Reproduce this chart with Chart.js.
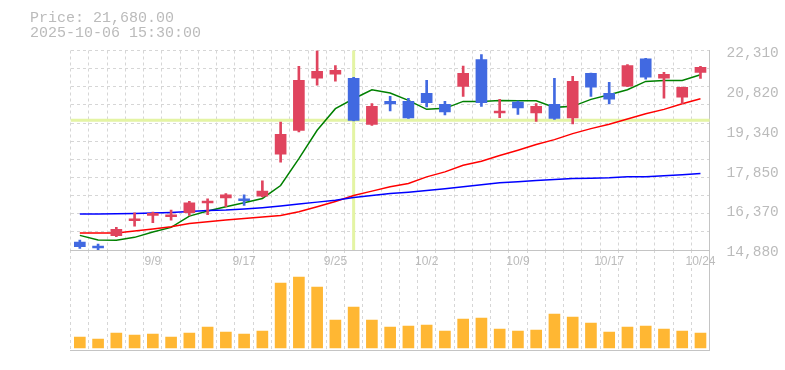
<!DOCTYPE html>
<html>
<head>
<meta charset="utf-8">
<script src="https://cdn.jsdelivr.net/npm/chart.js@4.4.1/dist/chart.umd.min.js"></script>
<style>
  html, body { margin: 0; padding: 0; background: #fff; }
  #wrap { position: relative; width: 785px; height: 370px; }
  #info { position: absolute; left: 30px; top: 11px; font: 15px/15px "Liberation Mono", monospace; color: #bbb; white-space: pre; }
  #vol { position: absolute; left: 0; top: 250px; }
  #price { position: absolute; left: 0; top: 0; }
</style>
</head>
<body>
<div id="wrap">
  <canvas id="vol" width="785" height="101"></canvas>
  <canvas id="price" width="785" height="275"></canvas>
  <div id="info">Price: 21,680.00
2025-10-06 15:30:00</div>
</div>
<script>
// ===== Data =====
const dates = ['9/3','9/4','9/5','9/8','9/9','9/10','9/11','9/12','9/16','9/17','9/18','9/19','9/22','9/24','9/25',
  '9/26','9/29','9/30','10/1','10/2','10/3','10/6','10/7','10/8','10/9','10/10','10/14','10/15','10/16','10/17',
  '10/20','10/21','10/22','10/23','10/24'];
const dateTicks = ['9/9','9/17','9/25','10/2','10/9','10/17','10/24'];

const opens  = [15177,15029,15413,15970,16168,16118,16267,16638,16824,16787,16886,18446,19338,21282,21431,
  21270,19561,20415,20415,20713,20304,20973,21976,19982,20391,19982,20304,19796,21456,20713,20985,22000,21282,20576,21493];
const highs  = [15251,15103,15722,16267,16292,16366,16688,16787,16985,16936,17456,19648,21716,22310,21753,
  21307,20329,20601,20527,21196,20415,21728,22161,20490,20428,20329,21270,21344,21470,21121,21790,22020,21493,20950,21720];
const lows   = [14942,14880,15375,15772,15895,15994,16168,16193,16490,16539,16861,18149,19276,21022,21171,
  19685,19524,20056,19784,20205,19908,20601,20230,19809,19932,19672,19747,19573,20601,20316,20960,21245,20539,20329,21270];
const closes = [15004,14954,15648,16044,16242,16193,16638,16700,16936,16713,17072,19189,21195,21530,21567,
  19710,20230,20316,19796,20366,20019,21456,20366,20056,20168,20230,19784,21158,20948,20502,21753,21319,21418,20935,21680];

const ma5  = [15425,15251,15239,15351,15549,15722,16143,16329,16490,16638,16799,17282,18285,19338,20143,
  20514,20849,20725,20452,20118,20155,20415,20415,20452,20440,20440,20192,20230,20490,20663,20849,21158,21195,21195,21406];
const ma25 = [15512,15512,15512,15586,15660,15747,15871,15933,15994,16056,16106,16168,16304,16490,16688,
  16911,17072,17233,17357,17604,17790,18038,18186,18397,18595,18806,18991,19214,19400,19561,19759,19957,20118,20329,20514];
const ma75 = [16217,16217,16230,16242,16255,16279,16316,16354,16366,16403,16453,16515,16589,16663,16737,
  16837,16911,16985,17035,17097,17159,17233,17307,17381,17419,17468,17505,17542,17555,17567,17604,17604,17641,17679,17728];

// volume (thousand shares)
const volumes = [110,90,150,130,140,110,150,210,160,140,170,650,710,610,280,
  410,280,210,220,230,170,290,300,190,170,180,340,310,250,160,210,220,190,170,150];

const priceTicks = [14880,16370,17850,19340,20820,22310];
const crossIndex = 15;

// ===== Styles =====
const RED = '#e0445e', BLUE = '#4169e1', ORANGE = '#ffb733';
const GRID = '#d6d6d6', AXIS = '#c4c4c4', TEXT = '#bbb';
const MONO = '"Liberation Mono", monospace';
const PLOT_LEFT = 70.7, AXIS_W = 785 - 709.6;

const candleColors = closes.map((c, i) => c >= opens[i] ? RED : BLUE);

// crosshair behind the candles, at the close of crossIndex
const crosshair = {
  id: 'crosshair',
  beforeDatasetsDraw(chart) {
    const { ctx, chartArea: a, scales: { x, y } } = chart;
    const px = x.getPixelForValue(crossIndex);
    const py = y.getPixelForValue(closes[crossIndex]);
    ctx.save();
    ctx.strokeStyle = '#e4f4a4';
    ctx.lineWidth = 3;
    ctx.beginPath();
    ctx.moveTo(px, a.top); ctx.lineTo(px, a.bottom);
    ctx.moveTo(a.left, py); ctx.lineTo(a.right, py);
    ctx.stroke();
    ctx.restore();
  }
};

const lineDs = (data, color) => ({
  type: 'line', data, borderColor: color, borderWidth: 1.5,
  pointRadius: 0, tension: 0, order: 3, yAxisID: 'y'
});

// ===== Price chart =====
new Chart(document.getElementById('price'), {
  type: 'bar',
  data: {
    labels: dates,
    datasets: [
      lineDs(ma75, '#0000ff'),
      lineDs(ma25, '#ff0000'),
      lineDs(ma5, '#008000'),
      {
        // wicks
        data: lows.map((l, i) => [l, highs[i]]),
        backgroundColor: candleColors, barThickness: 2,
        grouped: false, order: 2, yAxisID: 'y', borderSkipped: false
      },
      {
        // bodies
        data: opens.map((o, i) => [o, closes[i]]),
        backgroundColor: candleColors, barThickness: 11,
        grouped: false, order: 1, yAxisID: 'y', borderSkipped: false
      }
    ]
  },
  options: {
    responsive: false,
    animation: false,
    layout: { padding: { left: PLOT_LEFT, top: 50.5, right: 0, bottom: 0 } },
    plugins: { legend: { display: false }, tooltip: { enabled: false } },
    scales: {
      x: {
        offset: true,
        grid: { color: GRID, drawTicks: false, offset: true },
        border: { display: true, color: AXIS, dash: [3, 3] },
        ticks: {
          autoSkip: false, maxRotation: 0, padding: 4, color: TEXT,
          font: { family: '"Liberation Sans", sans-serif', size: 12 },
          callback: (v, i) => dateTicks.includes(dates[i]) ? dates[i] : ''
        },
        afterFit: s => { s.height = 25; }
      },
      y: {
        position: 'right',
        min: priceTicks[0], max: priceTicks[priceTicks.length - 1],
        grid: { display: false },
        border: { display: true, color: AXIS },
        afterBuildTicks: s => { s.ticks = priceTicks.map(v => ({ value: v })); },
        ticks: {
          padding: 9, labelOffset: 2.5, color: TEXT,
          font: { family: MONO, size: 14.5 },
          callback: v => v.toLocaleString('en-US')
        },
        afterFit: s => { s.width = AXIS_W; }
      },
      // hidden axis that only draws the horizontal dashed grid
      yg: {
        position: 'left', min: 0, max: 11,
        ticks: { display: false, stepSize: 1 },
        grid: { color: GRID, drawTicks: false },
        border: { display: false, dash: [3, 3] }
      }
    }
  },
  plugins: [crosshair]
});

// ===== Volume chart =====
new Chart(document.getElementById('vol'), {
  type: 'bar',
  data: {
    labels: dates,
    datasets: [{ data: volumes, backgroundColor: ORANGE, barThickness: 11 }]
  },
  options: {
    responsive: false,
    animation: false,
    layout: { padding: { left: PLOT_LEFT, top: 0, right: 0, bottom: 1 } },
    plugins: { legend: { display: false }, tooltip: { enabled: false } },
    scales: {
      x: {
        offset: true,
        grid: { color: GRID, drawTicks: false, offset: true },
        border: { display: true, color: AXIS, dash: [3, 3] },
        ticks: { display: false }
      },
      y: {
        position: 'right', min: -20, max: 980,
        grid: { display: false },
        ticks: { display: false },
        border: { display: true, color: AXIS },
        afterFit: s => { s.width = AXIS_W; }
      }
    }
  }
});
</script>
</body>
</html>
